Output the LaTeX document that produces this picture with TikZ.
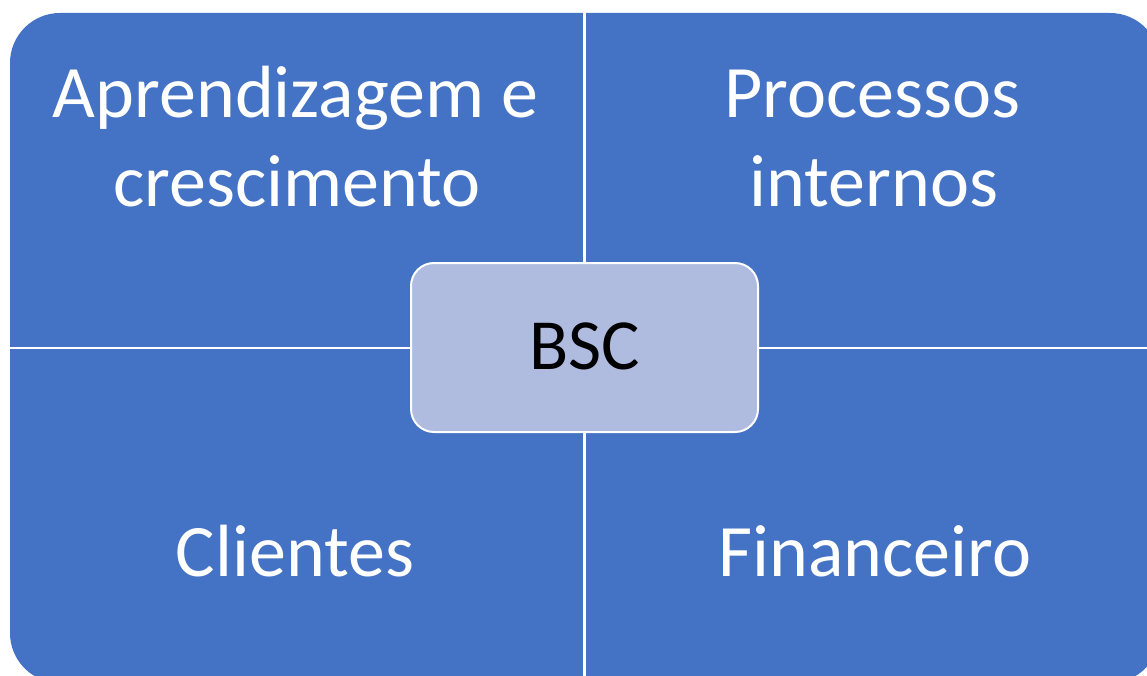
\documentclass[tikz,border=0pt]{standalone}
\usepackage{fontspec}
\setmainfont{Carlito}
\definecolor{quadblue}{RGB}{68,114,196}
\definecolor{centerfill}{RGB}{175,188,224}
\tikzset{
  quadtext/.style={text=white, anchor=base, inner sep=0pt, font=\fontsize{74}{89}\selectfont},
  centerbox/.style={draw=white, line width=2pt, fill=centerfill, rounded corners=23pt,
    minimum width=347pt, minimum height=169pt, inner sep=0pt, text=black,
    font=\fontsize{72}{86}\selectfont},
  gapline/.style={draw=white, line width=2.7pt}
}
\begin{document}
\begin{tikzpicture}[x=1pt,y=-1pt]
\useasboundingbox (0,0) rectangle (1147,676);
\fill[white] (0,0) rectangle (1147,676);
\begin{scope}
\clip (0,0) rectangle (1147,676);
\fill[quadblue, rounded corners=50pt] (10,13) rectangle (1160,683);
\coordinate (vtop) at (584.7,0);
\coordinate (vbot) at (584.7,690);
\coordinate (hl) at (0,348);
\coordinate (hr) at (1170,348);
\draw[gapline] (vtop) -- (vbot);
\draw[gapline, line width=2.5pt] (hl) -- (hr);
\end{scope}
\node[quadtext] (a1) at (295.5,117.7) {Aprendizagem e};
\node[quadtext] (a2) at (297,206.7) {crescimento};
\node[quadtext] (p1) at (872,117.7) {Processos};
\node[quadtext] (p2) at (874,206.7) {internos};
\node[quadtext] (c1) at (295,576.7) {Clientes};
\node[quadtext] (f1) at (875,576.7) {Financeiro};
\node[centerbox, text depth=3pt] (bsc) at (584.5,347.5) {BSC};
\end{tikzpicture}
\end{document}
